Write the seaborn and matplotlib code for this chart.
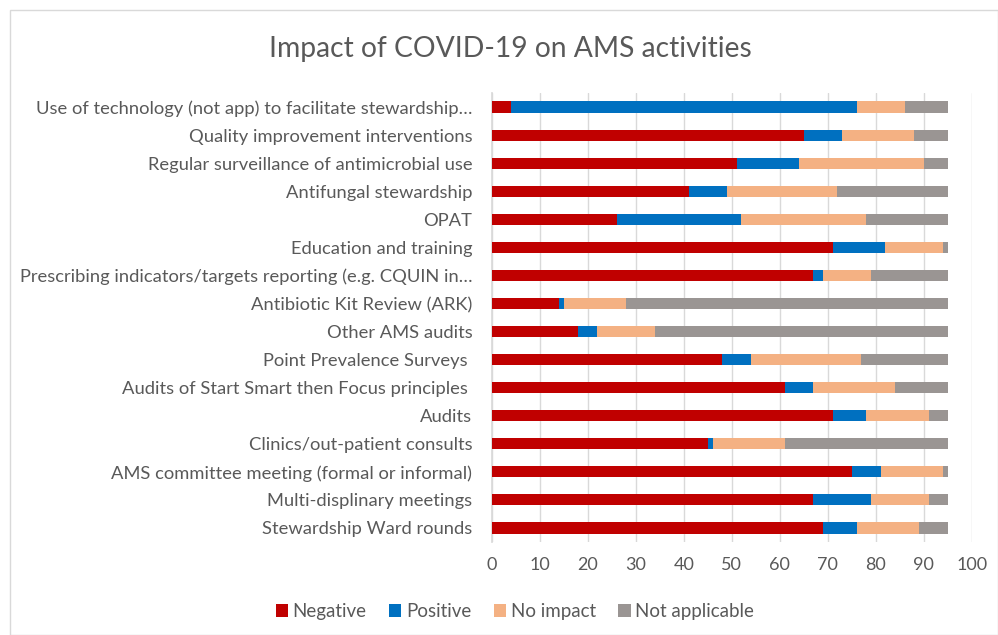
import numpy as np
import pandas as pd
import matplotlib
matplotlib.use("Agg")
import matplotlib.pyplot as plt
from matplotlib.patches import Patch, Rectangle
import seaborn as sns

activities = [
    "Use of technology (not app) to facilitate stewardship…",
    "Quality improvement interventions",
    "Regular surveillance of antimicrobial use",
    "Antifungal stewardship",
    "OPAT",
    "Education and training",
    "Prescribing indicators/targets reporting (e.g. CQUIN in…",
    "Antibiotic Kit Review (ARK)",
    "Other AMS audits",
    "Point Prevalence Surveys ",
    "Audits of Start Smart then Focus principles ",
    "Audits",
    "Clinics/out-patient consults",
    "AMS committee meeting (formal or informal)",
    "Multi-displinary meetings",
    "Stewardship Ward rounds",
]
negative = [4, 65, 51, 41, 26, 71, 67, 14, 18, 48, 61, 71, 45, 75, 67, 69]
positive = [72, 8, 13, 8, 26, 11, 2, 1, 4, 6, 6, 7, 1, 6, 12, 7]
no_impact = [10, 15, 26, 23, 26, 12, 10, 13, 12, 23, 17, 13, 15, 13, 12, 13]
not_applicable = [9, 7, 5, 23, 17, 1, 16, 67, 61, 18, 11, 4, 34, 1, 4, 6]

series = ["Negative", "Positive", "No impact", "Not applicable"]
COLORS = {
    "Negative": "#C00000",
    "Positive": "#0070C0",
    "No impact": "#F4B183",
    "Not applicable": "#9A9593",
}
TEXT = "#595959"

df = pd.DataFrame({
    "Activity": activities,
    "Negative": negative,
    "Positive": positive,
    "No impact": no_impact,
    "Not applicable": not_applicable,
})
# cumulative ends for stacking
cum = df[series].cumsum(axis=1)
cum["Activity"] = df["Activity"]

sns.set_theme(style="white")
plt.rcParams["font.family"] = ["Lato", "DejaVu Sans"]

fig = plt.figure(figsize=(9.98, 6.35), dpi=100)
ax = fig.add_axes([0.4927, 0.1465, 0.481, 0.707])

# draw from the longest cumulative bar to the shortest
for name in reversed(series):
    sns.barplot(data=cum, x=name, y="Activity", order=activities,
                color=COLORS[name], width=0.4, saturation=1,
                edgecolor="none", linewidth=0, orient="h", ax=ax)

ax.set_xlim(0, 100)
ax.set_xticks(np.arange(0, 101, 10))
ax.set_ylim(len(activities) - 0.5, -0.5)
ax.xaxis.grid(True, color="#D9D9D9", linewidth=1)
ax.set_axisbelow(True)
for side in ["top", "right", "bottom"]:
    ax.spines[side].set_visible(False)
ax.spines["left"].set_color("#D9D9D9")
ax.spines["left"].set_zorder(0.5)
ax.set_xlabel("")
ax.set_ylabel("")
ax.tick_params(axis="y", length=0, pad=14, labelsize=13.2, labelcolor=TEXT)
ax.tick_params(axis="x", length=0, pad=11, labelsize=13, labelcolor=TEXT)

fig.text(0.511, 0.923, "Impact of COVID-19 on AMS activities", ha="center",
         va="center", fontsize=20.3, color=TEXT)

handles = [Patch(facecolor=COLORS[s], edgecolor="none") for s in series]
fig.legend(handles, series, loc="center", bbox_to_anchor=(0.516, 0.037),
           ncol=4, frameon=False, fontsize=13.5, labelcolor=TEXT,
           handlelength=0.65, handleheight=0.65, handletextpad=0.25,
           columnspacing=1.2)

# chart border
fig.patches.append(Rectangle((0.010, 0.0), 0.99, 0.985, transform=fig.transFigure,
                             fill=False, edgecolor="#D9D9D9", linewidth=1))

fig.savefig("out.png", dpi=100, facecolor="white")
